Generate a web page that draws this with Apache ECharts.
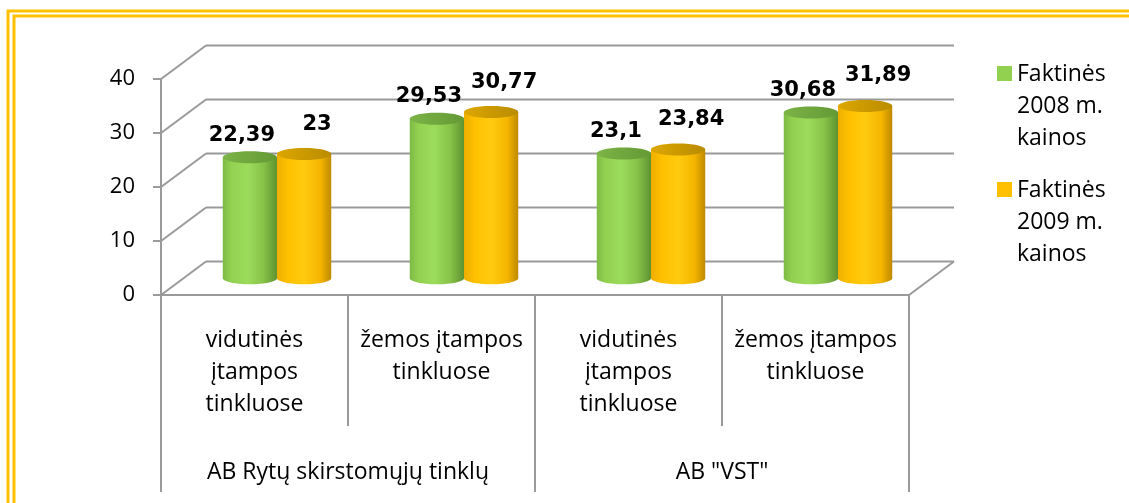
<!DOCTYPE html>
<html>
<head>
<meta charset="utf-8">
<script src="https://cdn.jsdelivr.net/npm/echarts@6/dist/echarts.min.js"></script>
<style>
html,body{margin:0;padding:0;background:#fff;}
#chart{width:1129px;height:503px;}
</style>
</head>
<body>
<div id="chart"></div>
<script>
const categories = ['vidutinės\nįtampos\ntinkluose', 'žemos įtampos\ntinkluose', 'vidutinės\nįtampos\ntinkluose', 'žemos įtampos\ntinkluose'];
const groups = ['AB Rytų skirstomųjų tinklų', 'AB "VST"'];
const seriesNames = ['Faktinės\n2008 m.\nkainos', 'Faktinės\n2009 m.\nkainos'];
const values2008 = [22.39, 29.53, 23.1, 30.68];
const values2009 = [23, 30.77, 23.84, 31.89];
const yTicks = [0, 10, 20, 30, 40];

const DX = 45, DY = -33.5;
const LINE = '#9a9a9a';

function fmt(v) { return String(v).replace('.', ','); }

const greenBody = {type:'linear', x:0, y:0, x2:1, y2:0, colorStops:[
  {offset:0, color:'#7DBA45'}, {offset:0.15, color:'#92D050'}, {offset:0.45, color:'#9CDC5B'},
  {offset:0.75, color:'#86C248'}, {offset:1, color:'#5E9330'}]};
const greenTop = {type:'linear', x:0, y:0, x2:1, y2:0, colorStops:[
  {offset:0, color:'#7CB447'}, {offset:1, color:'#649934'}]};
const orangeBody = {type:'linear', x:0, y:0, x2:1, y2:0, colorStops:[
  {offset:0, color:'#EDAE00'}, {offset:0.2, color:'#FFC000'}, {offset:0.5, color:'#FFCB0F'},
  {offset:0.8, color:'#F5B500'}, {offset:1, color:'#BE8A00'}]};
const orangeTop = {type:'linear', x:0, y:0, x2:1, y2:0, colorStops:[
  {offset:0, color:'#DCA700'}, {offset:1, color:'#B98C00'}]};

function makeBar(slot, body, topFill, ldx, ldy) {
  return function (params, api) {
    const idx = api.value(0), v = api.value(1);
    const top = api.coord([idx, v]);
    const base = api.coord([idx, 0]);
    const band = api.size([1, 0])[0];
    const w = band * 0.29;
    const cx = top[0] + DX / 2 + (slot === 0 ? -w / 2 : w / 2);
    const yT = top[1] + DY / 2, yB = base[1] + DY / 2;
    const ry = 6;
    return {type:'group', children:[
      {type:'rect', shape:{x:cx - w / 2, y:yT, width:w, height:yB - yT}, style:{fill:body}},
      {type:'ellipse', shape:{cx:cx, cy:yB, rx:w / 2, ry:ry}, style:{fill:body}},
      {type:'ellipse', shape:{cx:cx, cy:yT, rx:w / 2, ry:ry}, style:{fill:topFill}},
      {type:'text', z2:10, style:{text:fmt(v), x:cx + ldx, y:yT + ldy, align:'center', verticalAlign:'middle',
        font:'bold 21px "DejaVu Sans"', fill:'#000'}}
    ]};
  };
}

function renderWalls(params, api) {
  const cs = params.coordSys;
  const x0 = cs.x, x1 = cs.x + cs.width;
  const children = [];
  const st = {stroke:LINE, lineWidth:2};
  yTicks.forEach(function (t) {
    const y = api.coord([0, t])[1];
    children.push({type:'line', shape:{x1:x0 + DX, y1:y + DY, x2:x1 + DX, y2:y + DY}, style:st});
    children.push({type:'line', shape:{x1:x0, y1:y, x2:x0 + DX, y2:y + DY}, style:st});
  });
  const y0 = api.coord([0, yTicks[0]])[1];
  children.push({type:'line', shape:{x1:x1, y1:y0, x2:x1 + DX, y2:y0 + DY}, style:st});
  return {type:'group', children:children};
}

const chart = echarts.init(document.getElementById('chart'), null, {renderer:'canvas'});
const option = {
  backgroundColor:'#fff',
  animation:false,
  graphic:[
    {type:'rect', shape:{x:8, y:11, width:1400, height:900}, style:{fill:'none', stroke:'#FFC000', lineWidth:3}, z:0},
    {type:'rect', shape:{x:14, y:16, width:1400, height:900}, style:{fill:'none', stroke:'#FFC000', lineWidth:3}, z:0}
  ],
  grid:{left:161, top:79, width:748, height:216, containLabel:false},
  legend:{
    orient:'vertical', left:992, top:53, itemGap:20, itemWidth:15, itemHeight:96,
    icon:'path://M0,8L15,8L15,23L0,23Z M0,0L0.01,0 M0,96L0.01,96',
    textStyle:{fontFamily:'"Open Sans"', fontSize:23, lineHeight:32, color:'#000'},
    data:seriesNames
  },
  xAxis:[
    {type:'category', data:categories, gridIndex:0,
      axisLine:{show:true, lineStyle:{color:LINE, width:2}},
      axisTick:{show:true, length:131, lineStyle:{color:LINE, width:2}},
      axisLabel:{interval:0, margin:29, fontFamily:'"Open Sans"', fontSize:23, lineHeight:32, color:'#000'},
      splitLine:{show:false}},
    {type:'category', data:groups, gridIndex:0, position:'bottom',
      axisLine:{show:false},
      axisTick:{show:true, length:197, lineStyle:{color:LINE, width:2}},
      axisLabel:{interval:0, margin:161, fontFamily:'"Open Sans"', fontSize:23, lineHeight:32, color:'#000'},
      splitLine:{show:false}}
  ],
  yAxis:{type:'value', min:0, max:40, interval:10,
    axisLine:{show:true, lineStyle:{color:LINE, width:2}},
    axisTick:{show:true, length:8, lineStyle:{color:LINE, width:2}},
    axisLabel:{margin:26, fontFamily:'"Open Sans"', fontSize:22, color:'#000'},
    splitLine:{show:false}},
  series:[
    {type:'custom', name:'walls', xAxisIndex:0, yAxisIndex:0, z:1, silent:true,
      renderItem:renderWalls, data:[[0, 0]], encode:{x:0, y:1}},
    {type:'custom', name:seriesNames[0], xAxisIndex:0, yAxisIndex:0, z:2,
      itemStyle:{color:'#92D050'},
      renderItem:makeBar(0, greenBody, greenTop, -8, -22),
      data:values2008.map(function (v, i) { return [i, v]; }), encode:{x:0, y:1}},
    {type:'custom', name:seriesNames[1], xAxisIndex:0, yAxisIndex:0, z:3,
      itemStyle:{color:'#FFC000'},
      renderItem:makeBar(1, orangeBody, orangeTop, 13, -30),
      data:values2009.map(function (v, i) { return [i, v]; }), encode:{x:0, y:1}}
  ]
};
chart.setOption(option);
</script>
</body>
</html>
